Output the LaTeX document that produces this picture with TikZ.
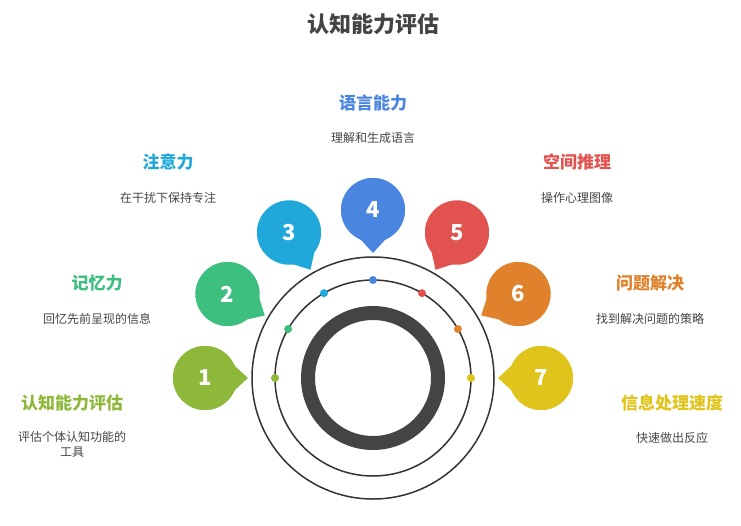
\documentclass[tikz,border=0pt]{standalone}
\usepackage{fontspec}
\setmainfont{Noto Sans CJK SC}
\usetikzlibrary{calc}
\definecolor{cA}{HTML}{8DB83A}
\definecolor{cB}{HTML}{3DBF7F}
\definecolor{cC}{HTML}{1FA8D9}
\definecolor{cD}{HTML}{4A86E0}
\definecolor{cE}{HTML}{E2534F}
\definecolor{cF}{HTML}{E0812B}
\definecolor{cG}{HTML}{E0C41B}
\definecolor{cT}{HTML}{444444}
\tikzset{mybubble/.style={
  shape=circle,
  draw=white,
  line width=1.5pt,
  minimum size=66pt,
  text=white,
  font=\bfseries\fontsize{22}{22}\selectfont,
  }
}
\tikzset{mydot/.style={
  shape=circle,
  inner sep=0pt,
  minimum size=8pt,
  }
}
\tikzset{mytitle/.style={font=\bfseries\fontsize{17}{17}\selectfont}}
\tikzset{mydesc/.style={text=cT, font=\fontsize{12}{15}\selectfont, align=center}}

\begin{document}
\begin{tikzpicture}[x=1pt,y=-1pt]
  \useasboundingbox (0,0) rectangle (741,525);
  \coordinate (c) at (373,378);
  \node [font=\bfseries\fontsize{22}{22}\selectfont, text=cT] (head) at (373,24) {认知能力评估};

  % rings
  \draw [line width=1.5pt, draw=black!80] (c) circle (121);
  \draw [line width=1.5pt, draw=black!80] (c) circle (98);
  \draw [line width=14pt, draw=cT] (c) circle (65);

  % bubbles, tails and dots
  \foreach \n/\a/\col in {1/180/cA, 2/150/cB, 3/120/cC, 4/90/cD, 5/60/cE, 6/30/cF, 7/0/cG} {
    \node [mybubble, fill=\col] (b\n) at ($(c)+(\a:168 and -168)$) {\n};
    \coordinate (t\n) at ($(c)+(\a:125 and -125)$);
    \coordinate (l\n) at ($(c)+(\a+6:142 and -142)$);
    \coordinate (r\n) at ($(c)+(\a-6:142 and -142)$);
    \fill [\col] (l\n) -- (t\n) -- (r\n) -- cycle;
    \node [mydot, fill=\col] (d\n) at ($(c)+(\a:98 and -98)$) {};
  }

  % labels
  \node [mytitle, text=cA] (h1) at (72,403) {认知能力评估};
  \node [mydesc] (s1) at (72,444) {评估个体认知功能的\\工具};
  \node [mytitle, text=cB] (h2) at (97,283) {记忆力};
  \node [mydesc] (s2) at (97,319) {回忆先前呈现的信息};
  \node [mytitle, text=cC] (h3) at (168,162) {注意力};
  \node [mydesc] (s3) at (168,198) {在干扰下保持专注};
  \node [mytitle, text=cD] (h4) at (373,103) {语言能力};
  \node [mydesc] (s4) at (373,138) {理解和生成语言};
  \node [mytitle, text=cE] (h5) at (577,162) {空间推理};
  \node [mydesc] (s5) at (577,198) {操作心理图像};
  \node [mytitle, text=cF] (h6) at (650,283) {问题解决};
  \node [mydesc] (s6) at (650,319) {找到解决问题的策略};
  \node [mytitle, text=cG] (h7) at (672,403) {信息处理速度};
  \node [mydesc] (s7) at (672,438) {快速做出反应};
\end{tikzpicture}
\end{document}
